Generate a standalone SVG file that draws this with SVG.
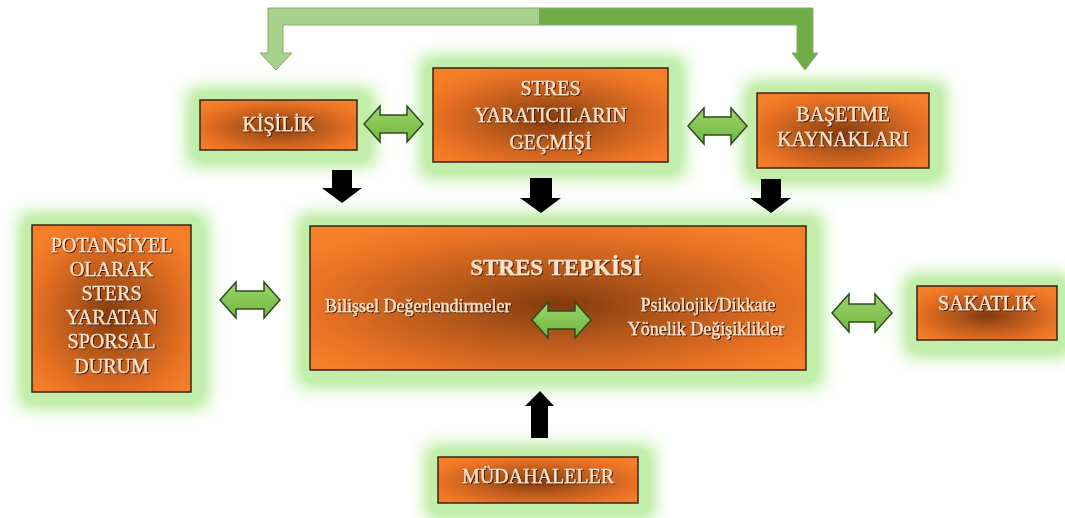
<svg xmlns="http://www.w3.org/2000/svg" width="1065" height="518" viewBox="0 0 1065 518">
<defs>
<radialGradient id="og" cx="0.5" cy="0.55" r="0.62">
<stop offset="0" stop-color="#823a0d"/>
<stop offset="0.35" stop-color="#b2561a"/>
<stop offset="0.8" stop-color="#e97224"/>
<stop offset="1" stop-color="#f47f28"/>
</radialGradient>
<linearGradient id="topg" gradientUnits="userSpaceOnUse" x1="260" y1="0" x2="818" y2="0">
<stop offset="0.5" stop-color="#a9d18e"/>
<stop offset="0.5" stop-color="#70ad47"/>
</linearGradient>
<linearGradient id="gg" x1="0" y1="0" x2="0" y2="1">
<stop offset="0" stop-color="#9bd36a"/>
<stop offset="1" stop-color="#72b83f"/>
</linearGradient>
<filter id="glow" x="-50%" y="-50%" width="200%" height="200%">
<feGaussianBlur stdDeviation="9"/>
<feComponentTransfer><feFuncA type="linear" slope="1.5"/></feComponentTransfer>
</filter>
<filter id="ts" x="-10%" y="-30%" width="120%" height="160%">
<feDropShadow dx="1" dy="1" stdDeviation="0.7" flood-color="#3e1804" flood-opacity="1"/>
</filter>
</defs>
<style>
.glow{fill:#c2eeab;filter:url(#glow)}
.box{fill:url(#og);stroke:#3a2414;stroke-width:1.5}
.t{font-family:"Liberation Serif","Times New Roman",serif;font-size:20px;fill:#fde2c8;text-anchor:middle;filter:url(#ts);stroke:#fde2c8;stroke-width:0.3}
.s{font-size:18px}
.b{font-weight:bold;font-size:23px}
.ga{fill:url(#gg);stroke:#2f4a24;stroke-width:1.5;stroke-linejoin:miter}
.ba{fill:#000}
</style>
<rect width="1065" height="518" fill="#fff"/>

<g id="n-kisilik">
<rect class="glow" x="188" y="89" width="186" height="76"/>
<rect class="box" x="200" y="100" width="157" height="50"/>
<text class="t" x="278.5" y="131">KİŞİLİK</text>
</g>

<g id="n-stres-yaraticilarin">
<rect class="glow" x="421" y="57" width="263" height="120"/>
<rect class="box" x="433" y="68" width="235" height="94"/>
<text class="t" x="550.5" y="95">STRES</text>
<text class="t" x="550.5" y="122">YARATICILARIN</text>
<text class="t" x="550.5" y="149">GEÇMİŞİ</text>
</g>

<g id="n-basetme">
<rect class="glow" x="745" y="82" width="200" height="101"/>
<rect class="box" x="757" y="93" width="172" height="75"/>
<text class="t" x="843" y="121">BAŞETME</text>
<text class="t" x="843" y="146">KAYNAKLARI</text>
</g>

<g id="n-potansiyel">
<rect class="glow" x="20" y="214" width="187" height="193"/>
<rect class="box" x="32" y="225" width="159" height="167"/>
<text class="t" x="111.5" y="252">POTANSİYEL</text>
<text class="t" x="111.5" y="276">OLARAK</text>
<text class="t" x="111.5" y="300">STERS</text>
<text class="t" x="111.5" y="324">YARATAN</text>
<text class="t" x="111.5" y="348">SPORSAL</text>
<text class="t" x="111.5" y="373">DURUM</text>
</g>

<g id="n-stres-tepkisi">
<rect class="glow" x="298" y="215" width="524" height="171"/>
<rect class="box" x="310" y="226" width="496" height="144"/>
<text class="t b" x="556" y="275">STRES TEPKİSİ</text>
<text class="t s" x="325" y="312" style="text-anchor:start">Bilişsel Değerlendirmeler</text>
<text class="t s" x="708" y="311">Psikolojik/Dikkate</text>
<text class="t s" x="706" y="335">Yönelik Değişiklikler</text>
</g>

<g id="n-sakatlik">
<rect class="glow" x="905" y="275" width="165" height="81"/>
<rect class="box" x="917" y="286" width="140" height="54"/>
<text class="t" x="987" y="310">SAKATLIK</text>
</g>

<g id="n-mudahaleler">
<rect class="glow" x="426" y="446" width="228" height="72"/>
<rect class="box" x="438" y="457" width="200" height="46"/>
<text class="t" x="538" y="483">MÜDAHALELER</text>
</g>

<g id="connectors">
<path d="M268,8 H813 V53 H818 L805,70 L792,53 H797 V25 H283 V53 H292 L276,70 L260,53 H268 Z" fill="url(#topg)" stroke="#86ae6a" stroke-width="1"/>
<polygon class="ga" points="364,124 380,106 380,115 407,115 407,106 423,124 407,142 407,133 380,133 380,142"/>
<polygon class="ga" points="688,126 704,108 704,117 731,117 731,108 747,126 731,144 731,135 704,135 704,144"/>
<polygon class="ga" points="220,300 236,282 236,291 264,291 264,282 280,300 264,318 264,309 236,309 236,318"/>
<polygon class="ga" points="532,320 548,302 548,311 575,311 575,302 591,320 575,338 575,329 548,329 548,338"/>
<polygon class="ga" points="832,313 849,294 849,304 875,304 875,294 892,313 875,332 875,322 849,322 849,332"/>
<polygon class="ba" points="332,170 352,170 352,188 362,188 342,203 322,188 332,188"/>
<polygon class="ba" points="530,178 552,178 552,198 561,198 541,213 520,198 530,198"/>
<polygon class="ba" points="761,179 781,179 781,198 791,198 771,213 750,198 761,198"/>
<polygon class="ba" points="531,438 548,438 548,406 554,406 540,391 525,406 531,406"/>
</g>
</svg>
